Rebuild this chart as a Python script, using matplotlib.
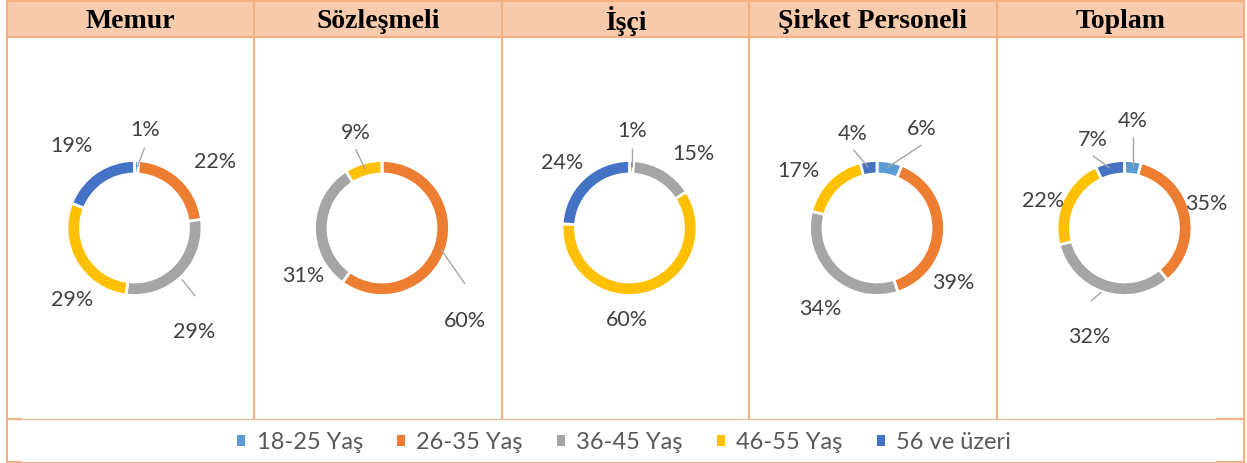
import matplotlib
matplotlib.use('Agg')
import matplotlib.pyplot as plt
from matplotlib.patches import Rectangle, Patch

categories = ['18-25 Yaş', '26-35 Yaş', '36-45 Yaş', '46-55 Yaş', '56 ve üzeri']
groups = ['Memur', 'Sözleşmeli', 'İşçi', 'Şirket Personeli', 'Toplam']

memur = [1, 22, 29, 29, 19]
sozlesmeli = [0, 60, 31, 9, 0]
isci = [0, 1, 15, 60, 24]
sirket = [6, 39, 34, 17, 4]
toplam = [4, 35, 32, 22, 7]
values = [memur, sozlesmeli, isci, sirket, toplam]

colors = ['#5B9BD5', '#ED7D31', '#A5A5A5', '#FFC000', '#4472C4']

# label placement (in ring radius units), None where no label is shown
label_pos = [
    [(0.16, 1.47), (1.19, 0.99), (0.89, -1.53), (-0.92, -1.05), (-0.93, 1.23)],
    [None, (1.23, -1.36), (-1.17, -0.70), (-0.39, 1.42), None],
    [None, (0.04, 1.45), (0.94, 1.11), (-0.04, -1.35), (-1.0, 0.98)],
    [(0.66, 1.48), (1.13, -0.80), (-0.84, -1.19), (-1.16, 0.86), (-0.36, 1.41)],
    [(0.12, 1.6), (1.21, 0.37), (-0.52, -1.6), (-1.21, 0.41), (-0.47, 1.32)],
]
leaders = [
    [((0.04, 0.90), (0.15, 1.19)), ((0.70, -0.76), (0.90, -1.01))],
    [((0.87, -0.31), (1.23, -0.83)), ((-0.25, 0.87), (-0.39, 1.17))],
    [((0.04, 0.90), (0.04, 1.19))],
    [((0.16, 0.90), (0.66, 1.23)), ((-0.13, 0.90), (-0.35, 1.16))],
    [((0.12, 0.90), (0.12, 1.35)), ((-0.22, 0.89), (-0.47, 1.07)), ((-0.34, -0.95), (-0.50, -1.08))],
]

W, H = 1247, 464
border = '#F4B183'
header_fill = '#F8CBAD'
col_x = [7, 254, 502, 749, 997, 1244]

fig = plt.figure(figsize=(W / 100, H / 100), dpi=100)
fig.patch.set_facecolor('white')

# table background
bg = fig.add_axes([0, 0, 1, 1])
bg.set_xlim(0, W)
bg.set_ylim(H, 0)
bg.axis('off')

bg.add_patch(Rectangle((col_x[0], 2), col_x[-1] - col_x[0], 36, facecolor=header_fill, edgecolor='none'))
bg.plot([col_x[0], col_x[-1]], [2, 2], color=border, lw=1.4)
bg.plot([col_x[0], col_x[-1]], [37.5, 37.5], color=border, lw=1.6)
for i, x in enumerate(col_x):
    bottom = 463 if i in (0, len(col_x) - 1) else 419.5
    bg.plot([x, x], [2, bottom], color=border, lw=1.5)
bg.plot([col_x[0], col_x[-1]], [419.5, 419.5], color=border, lw=0.8)
bg.plot([col_x[0], col_x[-1]], [462.5, 462.5], color=border, lw=0.8)
for xs in ([col_x[0], 21], [1217, col_x[-1]]):
    bg.plot(xs, [419.5, 419.5], color=border, lw=1.5)
    bg.plot(xs, [462.5, 462.5], color=border, lw=1.5)

for i, name in enumerate(groups):
    cx = (col_x[i] + col_x[i + 1]) / 2
    bg.text(cx, 21, name, ha='center', va='center', fontsize=20, fontweight='bold',
            family='Liberation Serif', color='black')

# donuts
R = 67.5
cy = 229
S = 2 * 1.8 * R
for i, vals in enumerate(values):
    cx = (col_x[i] + col_x[i + 1]) / 2 + 4
    ax = fig.add_axes([(cx - S / 2) / W, (H - cy - S / 2) / H, S / W, S / H])
    ax.pie(vals, radius=1, startangle=90, counterclock=False, colors=colors,
           wedgeprops=dict(width=0.2, edgecolor='white', linewidth=2))
    ax.set_xlim(-1.8, 1.8)
    ax.set_ylim(-1.8, 1.8)
    ax.set_aspect('equal')
    ax.axis('off')
    for (p0, p1) in leaders[i]:
        ax.plot([p0[0], p1[0]], [p0[1], p1[1]], color='#A6A6A6', lw=1, solid_capstyle='butt')
    for v, pos in zip(vals, label_pos[i]):
        if pos is None or v == 0:
            continue
        ax.text(pos[0], pos[1], f'{v}%', ha='center', va='center', fontsize=15.5,
                family='Lato', color='#404040')

handles = [Patch(facecolor=c, edgecolor='none') for c in colors]
leg = bg.legend(handles, categories, loc='center', bbox_to_anchor=(624 / W, 1 - 443 / H),
                ncol=5, frameon=False, handlelength=0.34, handleheight=0.34,
                handletextpad=0.47, columnspacing=1.45, prop={'family': 'Lato', 'size': 17})
for t in leg.get_texts():
    t.set_color('#595959')

fig.savefig('out.png', dpi=100)
